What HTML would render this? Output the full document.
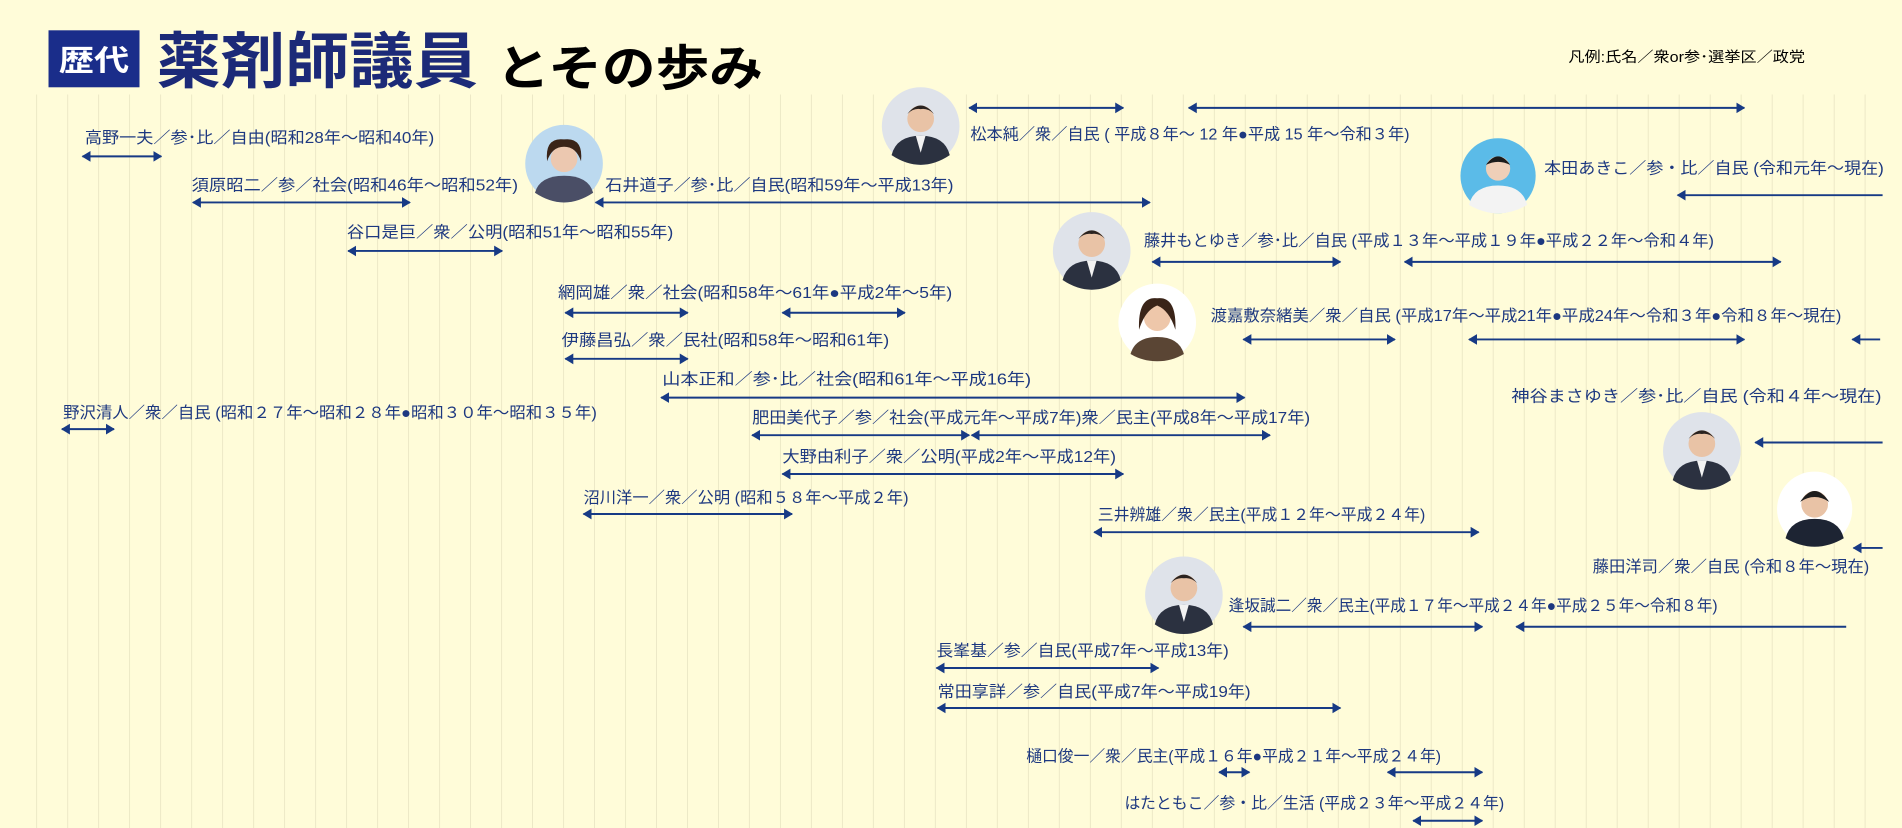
<!DOCTYPE html>
<html><head><meta charset="utf-8">
<style>
html,body{margin:0;padding:0;background:#fffcd9;}
svg{display:block;}
text{font-family:"Liberation Sans","Noto Sans CJK JP",sans-serif;}
.l{fill:#1d3880;font-size:13px;}
</style></head>
<body>
<svg width="1902" height="828" viewBox="0 0 1568 683" preserveAspectRatio="none" xmlns="http://www.w3.org/2000/svg">
<defs>
<marker id="h" viewBox="0 0 10 12" refX="9" refY="6" markerWidth="4.6" markerHeight="5.6" orient="auto-start-reverse" markerUnits="strokeWidth">
<path d="M0,0 L10,6 L0,12 z" fill="#173a85"/>
</marker>
<g id="p">
<circle r="32" fill="#dfe3ea"/>
<circle cx="0" cy="-6" r="11" fill="#e9c3a6"/>
<path d="M-11,-10 Q0,-24 11,-10 Q6,-15 0,-14 Q-6,-15 -11,-10z" fill="#2a2320"/>
<path d="M-24,24 Q-20,8 0,8 Q20,8 24,24 Q12,32 0,32 Q-12,32 -24,24z" fill="#2b3140"/>
<path d="M-4,8 L0,22 L4,8z" fill="#f2f2f2"/>
</g>
</defs>
<rect width="1568" height="683" fill="#fffcd9"/>
<g id="grid" stroke="#ece8c6" stroke-width="0.8"></g>

<!-- title -->
<rect x="40" y="25" width="75" height="47" fill="#1a2d8a"/>
<text x="77.5" y="58" font-size="24" font-weight="bold" fill="#fff" text-anchor="middle" textLength="58" lengthAdjust="spacingAndGlyphs">歴代</text>
<text x="129" y="68" font-size="50" font-weight="bold" fill="#1c2a78" textLength="265" lengthAdjust="spacingAndGlyphs">薬剤師議員</text>
<text x="409" y="70" font-size="40" font-weight="bold" fill="#000" textLength="220" lengthAdjust="spacingAndGlyphs">とその歩み</text>
<text x="1293" y="51" font-size="12" fill="#000" textLength="195" lengthAdjust="spacingAndGlyphs">凡例:氏名／衆or参･選挙区／政党</text>

<!-- photos -->
<g transform="translate(465,135)"><circle r="32" fill="#bcd9ef"/><circle cx="0" cy="-4" r="11" fill="#ecc8b0"/><path d="M-14,-2 Q-16,-22 0,-20 Q16,-22 14,-2 Q10,-14 0,-14 Q-10,-14 -14,-2z" fill="#3a2418"/><path d="M-24,24 Q-20,10 0,10 Q20,10 24,24 Q12,32 0,32 Q-12,32 -24,24z" fill="#4a4e66"/></g>
<g transform="translate(759,104)"><use href="#p"/></g>
<g transform="translate(1235,145)"><circle r="31" fill="#5bbbe8"/><circle cx="0" cy="-6" r="10" fill="#efcfb8"/><path d="M-10,-9 Q0,-23 10,-9 Q0,-14 -10,-9z" fill="#1b1b1b"/><path d="M-24,24 Q-20,8 0,8 Q20,8 24,24 Q12,31 0,31 Q-12,31 -24,24z" fill="#f3f3f3"/></g>
<g transform="translate(900,207)"><use href="#p"/></g>
<g transform="translate(954,266)"><circle r="32" fill="#fff"/><circle cx="0" cy="-4" r="11" fill="#eec7aa"/><path d="M-15,6 Q-16,-22 0,-20 Q16,-22 15,6 Q10,-10 0,-14 Q-10,-10 -15,6z" fill="#3a2418"/><path d="M-22,26 Q-18,12 0,12 Q18,12 22,26 Q12,32 0,32 Q-12,32 -22,26z" fill="#5a4534"/></g>
<g transform="translate(1403,372)"><use href="#p"/></g>
<g transform="translate(1496,420)"><circle r="31" fill="#fff"/><circle cx="0" cy="-4" r="11" fill="#e9c3a6"/><path d="M-12,-6 Q0,-24 12,-6 Q0,-14 -12,-6z" fill="#1d1d1d"/><path d="M-24,24 Q-20,8 0,8 Q20,8 24,24 Q12,31 0,31 Q-12,31 -24,24z" fill="#1d2433"/></g>
<g transform="translate(976,491)"><use href="#p"/></g>

<!-- labels -->
<text class="l" x="70" y="118" textLength="288" lengthAdjust="spacingAndGlyphs">高野一夫／参･比／自由(昭和28年～昭和40年)</text>
<text class="l" x="158" y="157" textLength="269" lengthAdjust="spacingAndGlyphs">須原昭二／参／社会(昭和46年～昭和52年)</text>
<text class="l" x="286" y="196" textLength="269" lengthAdjust="spacingAndGlyphs">谷口是巨／衆／公明(昭和51年～昭和55年)</text>
<text class="l" x="460" y="246" textLength="325" lengthAdjust="spacingAndGlyphs">網岡雄／衆／社会(昭和58年～61年●平成2年～5年)</text>
<text class="l" x="463" y="285" textLength="270" lengthAdjust="spacingAndGlyphs">伊藤昌弘／衆／民社(昭和58年～昭和61年)</text>
<text class="l" x="546" y="317" textLength="304" lengthAdjust="spacingAndGlyphs">山本正和／参･比／社会(昭和61年～平成16年)</text>
<text class="l" x="52" y="345" textLength="440" lengthAdjust="spacingAndGlyphs">野沢清人／衆／自民 (昭和２７年～昭和２８年●昭和３０年～昭和３５年)</text>
<text class="l" x="620" y="349" textLength="460" lengthAdjust="spacingAndGlyphs">肥田美代子／参／社会(平成元年～平成7年)衆／民主(平成8年～平成17年)</text>
<text class="l" x="645" y="381" textLength="275" lengthAdjust="spacingAndGlyphs">大野由利子／衆／公明(平成2年～平成12年)</text>
<text class="l" x="481" y="415" textLength="268" lengthAdjust="spacingAndGlyphs">沼川洋一／衆／公明 (昭和５８年～平成２年)</text>
<text class="l" x="905" y="429" textLength="270" lengthAdjust="spacingAndGlyphs">三井辨雄／衆／民主(平成１２年～平成２４年)</text>
<text class="l" x="499" y="157" textLength="287" lengthAdjust="spacingAndGlyphs">石井道子／参･比／自民(昭和59年～平成13年)</text>
<text class="l" x="800" y="115" textLength="362" lengthAdjust="spacingAndGlyphs">松本純／衆／自民 ( 平成８年～ 12 年●平成 15 年～令和３年)</text>
<text class="l" x="1273" y="143" textLength="280" lengthAdjust="spacingAndGlyphs">本田あきこ／参・比／自民 (令和元年～現在)</text>
<text class="l" x="943" y="203" textLength="470" lengthAdjust="spacingAndGlyphs">藤井もとゆき／参･比／自民 (平成１３年～平成１９年●平成２２年～令和４年)</text>
<text class="l" x="998" y="265" textLength="520" lengthAdjust="spacingAndGlyphs">渡嘉敷奈緒美／衆／自民 (平成17年～平成21年●平成24年～令和３年●令和８年～現在)</text>
<text class="l" x="1246" y="331" textLength="305" lengthAdjust="spacingAndGlyphs">神谷まさゆき／参･比／自民 (令和４年～現在)</text>
<text class="l" x="1313" y="472" textLength="228" lengthAdjust="spacingAndGlyphs">藤田洋司／衆／自民 (令和８年～現在)</text>
<text class="l" x="1013" y="504" textLength="403" lengthAdjust="spacingAndGlyphs">逢坂誠二／衆／民主(平成１７年～平成２４年●平成２５年～令和８年)</text>
<text class="l" x="772" y="541" textLength="241" lengthAdjust="spacingAndGlyphs">長峯基／参／自民(平成7年～平成13年)</text>
<text class="l" x="773" y="575" textLength="258" lengthAdjust="spacingAndGlyphs">常田享詳／参／自民(平成7年～平成19年)</text>
<text class="l" x="846" y="628" textLength="342" lengthAdjust="spacingAndGlyphs">樋口俊一／衆／民主(平成１６年●平成２１年～平成２４年)</text>
<text class="l" x="927" y="667" textLength="313" lengthAdjust="spacingAndGlyphs">はたともこ／参・比／生活 (平成２３年～平成２４年)</text>

<!-- arrows -->
<g stroke="#173a85" stroke-width="1.6" fill="none">
<line x1="68" y1="129" x2="133" y2="129" marker-start="url(#h)" marker-end="url(#h)"/>
<line x1="159" y1="167" x2="338" y2="167" marker-start="url(#h)" marker-end="url(#h)"/>
<line x1="287" y1="207" x2="414" y2="207" marker-start="url(#h)" marker-end="url(#h)"/>
<line x1="466" y1="258" x2="567" y2="258" marker-start="url(#h)" marker-end="url(#h)"/>
<line x1="645" y1="258" x2="746" y2="258" marker-start="url(#h)" marker-end="url(#h)"/>
<line x1="466" y1="296" x2="567" y2="296" marker-start="url(#h)" marker-end="url(#h)"/>
<line x1="545" y1="328" x2="1026" y2="328" marker-start="url(#h)" marker-end="url(#h)"/>
<line x1="51" y1="354" x2="94" y2="354" marker-start="url(#h)" marker-end="url(#h)"/>
<line x1="620" y1="359" x2="799" y2="359" marker-start="url(#h)" marker-end="url(#h)"/>
<line x1="801" y1="359" x2="1047" y2="359" marker-start="url(#h)" marker-end="url(#h)"/>
<line x1="645" y1="391" x2="926" y2="391" marker-start="url(#h)" marker-end="url(#h)"/>
<line x1="481" y1="424" x2="653" y2="424" marker-start="url(#h)" marker-end="url(#h)"/>
<line x1="902" y1="439" x2="1219" y2="439" marker-start="url(#h)" marker-end="url(#h)"/>
<line x1="491" y1="167" x2="948" y2="167" marker-start="url(#h)" marker-end="url(#h)"/>
<line x1="799" y1="89" x2="926" y2="89" marker-start="url(#h)" marker-end="url(#h)"/>
<line x1="980" y1="89" x2="1438" y2="89" marker-start="url(#h)" marker-end="url(#h)"/>
<line x1="1383" y1="161" x2="1552" y2="161" marker-start="url(#h)"/>
<line x1="950" y1="216" x2="1105" y2="216" marker-start="url(#h)" marker-end="url(#h)"/>
<line x1="1158" y1="216" x2="1468" y2="216" marker-start="url(#h)" marker-end="url(#h)"/>
<line x1="1025" y1="280" x2="1150" y2="280" marker-start="url(#h)" marker-end="url(#h)"/>
<line x1="1211" y1="280" x2="1438" y2="280" marker-start="url(#h)" marker-end="url(#h)"/>
<line x1="1527" y1="280" x2="1550" y2="280" marker-start="url(#h)"/>
<line x1="1447" y1="365" x2="1552" y2="365" marker-start="url(#h)"/>
<line x1="1528" y1="452" x2="1552" y2="452" marker-start="url(#h)"/>
<line x1="1025" y1="517" x2="1222" y2="517" marker-start="url(#h)" marker-end="url(#h)"/>
<line x1="1250" y1="517" x2="1522" y2="517" marker-start="url(#h)"/>
<line x1="772" y1="551" x2="955" y2="551" marker-start="url(#h)" marker-end="url(#h)"/>
<line x1="773" y1="584" x2="1105" y2="584" marker-start="url(#h)" marker-end="url(#h)"/>
<line x1="1005" y1="637" x2="1030" y2="637" marker-start="url(#h)" marker-end="url(#h)"/>
<line x1="1144" y1="637" x2="1222" y2="637" marker-start="url(#h)" marker-end="url(#h)"/>
<line x1="1165" y1="677" x2="1222" y2="677" marker-start="url(#h)" marker-end="url(#h)"/>
</g>
</svg>
<script>
(function(){
var g=document.getElementById('grid');var s='';
for(var x=30.2;x<1560;x+=25.55){s+='<line x1="'+x.toFixed(1)+'" y1="78" x2="'+x.toFixed(1)+'" y2="683"/>';}
g.innerHTML=s;
})();
</script>
</body></html>
